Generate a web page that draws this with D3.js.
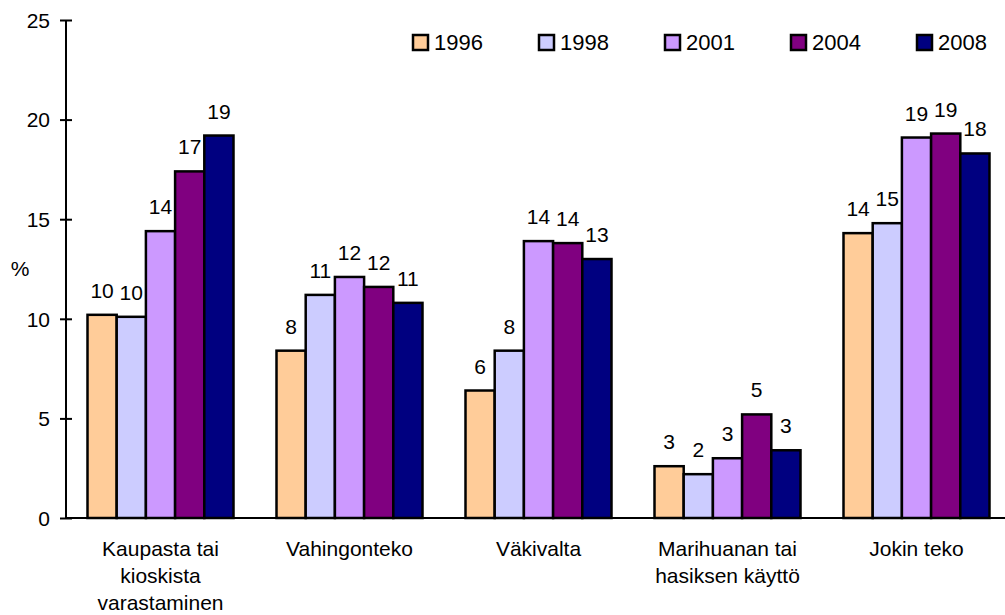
<!DOCTYPE html>
<html>
<head>
<meta charset="utf-8">
<script src="https://cdn.jsdelivr.net/npm/d3@7"></script>
<style>
  body { margin: 0; background: #fff; }
  text { font-family: "Liberation Sans", Arial, sans-serif; fill: #000; }
</style>
</head>
<body>
<div id="chart"></div>
<script>
const categories = [
  ["Kaupasta tai", "kioskista", "varastaminen"],
  ["Vahingonteko"],
  ["Väkivalta"],
  ["Marihuanan tai", "hasiksen käyttö"],
  ["Jokin teko"]
]
const years = ["1996", "1998", "2001", "2004", "2008"]
const values1996 = [10.2, 8.4, 6.4, 2.6, 14.3]
const values1998 = [10.1, 11.2, 8.4, 2.2, 14.8]
const values2001 = [14.4, 12.1, 13.9, 3.0, 19.1]
const values2004 = [17.4, 11.6, 13.8, 5.2, 19.3]
const values2008 = [19.2, 10.8, 13.0, 3.4, 18.3]
const yTicks = [0, 5, 10, 15, 20, 25]
const colors = ["#FFCC99", "#CCCCFF", "#CC99FF", "#800080", "#000080"]

const series = [values1996, values1998, values2001, values2004, values2008]

function createChart() {
  const width = 1005,
    height = 615,
    fontSize = 21

  const svg = d3.select("#chart").append("svg")
    .attr("width", width)
    .attr("height", height)

  // plot area runs a bit past the right edge, like the original
  const x0 = d3.scaleBand()
    .domain(d3.range(categories.length))
    .range([66, 1011])

  const x1 = d3.scaleBand()
    .domain(years)
    .range([21.5, x0.bandwidth() - 21.5])

  const y = d3.scaleLinear()
    .domain([0, 25])
    .range([518, 20])

  // bars
  const groups = svg.append("g").selectAll("g")
    .data(categories)
    .join("g")
    .attr("transform", (d, i) => `translate(${x0(i)},0)`)

  const cells = groups.selectAll("g")
    .data((d, i) => years.map((yr, j) => ({ year: yr, value: series[j][i], color: colors[j] })))
    .join("g")

  cells.append("rect")
    .attr("x", d => x1(d.year))
    .attr("y", d => y(d.value))
    .attr("width", x1.bandwidth())
    .attr("height", d => y(0) - y(d.value))
    .attr("fill", d => d.color)
    .attr("stroke", "black")
    .attr("stroke-width", 2.5)

  cells.append("text")
    .text(d => Math.round(d.value))
    .attr("x", d => x1(d.year) + x1.bandwidth() / 2)
    .attr("y", d => y(d.value) - 17)
    .attr("text-anchor", "middle")
    .style("font-size", fontSize + "px")

  // x axis line
  svg.append("line")
    .attr("x1", 66)
    .attr("x2", width)
    .attr("y1", y(0))
    .attr("y2", y(0))
    .attr("stroke", "black")
    .attr("stroke-width", 2)

  // y axis
  const yAxis = svg.append("g")
    .attr("transform", "translate(66,0)")
    .call(d3.axisLeft(y).tickValues(yTicks).tickSize(6).tickPadding(10))
  yAxis.select(".domain")
    .attr("stroke-width", 2)
    .attr("d", `M0,${y(0)}V${y(25)}`)
  yAxis.selectAll(".tick line")
    .attr("x1", 6)
    .attr("stroke-width", 2)
  yAxis.selectAll(".tick text")
    .style("font-size", fontSize + "px")
    .style("font-family", '"Liberation Sans", Arial, sans-serif')
    .attr("dy", "0.35em")

  svg.append("text")
    .text("%")
    .attr("x", 20)
    .attr("y", 276)
    .attr("text-anchor", "middle")
    .style("font-size", fontSize + "px")

  // category labels
  const catLabels = svg.append("g").selectAll("text")
    .data(categories)
    .join("text")
    .attr("text-anchor", "middle")
    .style("font-size", fontSize + "px")

  catLabels.selectAll("tspan")
    .data((d, i) => d.map(line => ({ line: line, i: i })))
    .join("tspan")
    .attr("x", d => x0(d.i) + x0.bandwidth() / 2)
    .attr("y", (d, k) => 556 + k * 27)
    .text(d => d.line)

  // legend
  const legend = svg.append("g").selectAll("g")
    .data(years)
    .join("g")
    .attr("transform", (d, i) => `translate(${413 + i * 126},35)`)

  legend.append("rect")
    .attr("width", 15)
    .attr("height", 15)
    .attr("fill", (d, i) => colors[i])
    .attr("stroke", "black")
    .attr("stroke-width", 2.5)

  legend.append("text")
    .text(d => d)
    .attr("x", 21)
    .attr("y", 15)
    .style("font-size", "22px")
}

createChart()
</script>
</body>
</html>
